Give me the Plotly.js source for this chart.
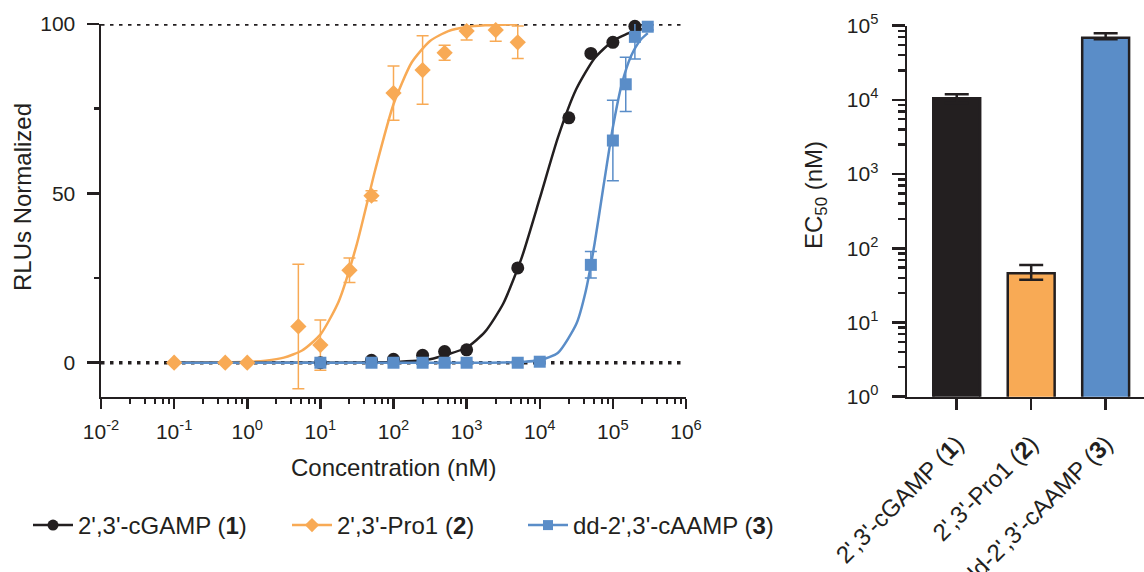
<!DOCTYPE html>
<html>
<head>
<meta charset="utf-8">
<script src="https://cdn.plot.ly/plotly-3.0.1.min.js"></script>
<style>
  html, body { margin: 0; padding: 0; background: #fff; }
  #chart { width: 1144px; height: 572px; }
</style>
</head>
<body>
<div id="chart"></div>
<script>
// ---------------- Data ----------------
// Dose-response points (concentration in nM, normalized RLU, error)
const conc_cGAMP = [10, 50, 100, 250, 500, 1000, 5000, 25000, 50000, 100000, 200000, 300000];
const rlu_cGAMP  = [0, 0.7, 1.0, 2.2, 3.3, 3.8, 28.0, 72.3, 91.3, 94.6, 99.3, 100.3];
const err_cGAMP  = [0.4, 0.5, 0.5, 0.5, 0.6, 0.6, 0.7, 0.8, 0.8, 0.7, 0.6, 0.5];

const conc_Pro1 = [0.1, 0.5, 1, 5, 10, 25, 50, 100, 250, 500, 1000, 2500, 5000];
const rlu_Pro1  = [0, 0, 0, 10.7, 5.2, 27.3, 49.3, 79.6, 86.4, 91.5, 97.9, 98.2, 94.6];
const err_Pro1  = [0.3, 0.3, 0.3, 18.4, 7.4, 3.6, 1.5, 8.0, 10.1, 2.2, 2.6, 3.3, 4.8];

const conc_cAAMP = [10, 50, 100, 250, 500, 1000, 5000, 10000, 50000, 100000, 150000, 200000, 300000];
const rlu_cAAMP  = [0, 0, 0, 0, 0, 0, 0, 0.3, 28.9, 65.6, 82.2, 96.2, 99.2];
const err_cAAMP  = [0.5, 0.4, 0.4, 0.4, 0.4, 0.4, 0.4, 0.5, 3.9, 11.9, 8.0, 6.5, 1.0];

// Fitted curves
const fitX_Pro1 = [0.1, 0.316, 1, 1.78, 3.16, 5.62, 10, 17.8, 31.6, 56.2, 100, 178, 316, 562, 1000, 1780, 3160, 5000];
const fitY_Pro1 = [0, 0.04, 0.26, 0.62, 1.5, 3.6, 8.3, 18.1, 35.1, 56.9, 76.3, 88.7, 95.0, 97.9, 99.1, 99.6, 99.8, 99.9];

const fitX_cGAMP = [0.1, 1, 10, 100, 316, 1000, 1780, 3160, 5620, 10000, 17800, 31600, 56200, 100000, 178000, 300000];
const fitY_cGAMP = [0, 0, 0.01, 0.24, 1.05, 4.5, 9.1, 17.4, 30.8, 48.5, 66.6, 80.8, 89.9, 95.0, 97.6, 98.8];

const fitX_cAAMP = [0.1, 1, 10, 100, 1000, 3160, 10000, 17800, 31600, 42200, 56200, 75000, 100000, 133000, 178000, 237000, 300000];
const fitY_cAAMP = [0, 0, 0, 0, 0, 0.04, 0.72, 2.95, 11.4, 20.8, 35.1, 52.6, 69.5, 82.4, 90.6, 95.2, 97.3];

// Series names (legend) and bar categories
const seriesNames = ["2',3'-cGAMP (<b>1</b>)", "2',3'-Pro1 (<b>2</b>)", "dd-2',3'-cAAMP (<b>3</b>)"];
const barCategories = ["2',3'-cGAMP (1)", "2',3'-Pro1 (2)", "dd-2',3'-cAAMP (3)"];
const barLabels = ["2',3'-cGAMP (<b>1</b>)", "2',3'-Pro1 (<b>2</b>)", "dd-2',3'-cAAMP (<b>3</b>)"];
const ec50Values = [10500, 46.2, 68900];
const ec50ErrPlus = [1400, 13.5, 10000];
const ec50ErrMinus = [1400, 8.5, 3300];

// Tick labels
const xTickVals = [0.01, 0.1, 1, 10, 100, 1000, 10000, 100000, 1000000];
const xTickText = ['10<sup>-2</sup>', '10<sup>-1</sup>', '10<sup>0</sup>', '10<sup>1</sup>', '10<sup>2</sup>',
                   '10<sup>3</sup>', '10<sup>4</sup>', '10<sup>5</sup>', '10<sup>6</sup>'];
const yTickVals = [0, 50, 100];
const yMinorVals = [25, 75];
const y2TickVals = [1, 10, 100, 1000, 10000, 100000];
const y2TickText = ['10<sup>0</sup>', '10<sup>1</sup>', '10<sup>2</sup>', '10<sup>3</sup>', '10<sup>4</sup>', '10<sup>5</sup>'];
const minorMultipliers = [2.5, 4, 5.5, 7, 8.5];

// ---------------- Styling ----------------
const W = 1144, H = 572;
const ink = '#231f20';
const cBlack = '#231f20', cOrange = '#f8aa55', cBlue = '#5a8dc8';
const FONT = 'Liberation Sans, Arial, Helvetica, sans-serif';

function minorTicks(majors) {
  const out = [];
  for (let i = 0; i < majors.length - 1; i++) {
    for (const m of minorMultipliers) out.push(majors[i] * m);
  }
  return out;
}

const curveLine = (color) => ({ color: color, width: 2.5, shape: 'spline', smoothing: 0.6 });

const traces = [
  // fitted curves
  { x: fitX_Pro1, y: fitY_Pro1, mode: 'lines', line: curveLine(cOrange), showlegend: false, hoverinfo: 'skip' },
  { x: fitX_cGAMP, y: fitY_cGAMP, mode: 'lines', line: curveLine(cBlack), showlegend: false, hoverinfo: 'skip' },
  { x: fitX_cAAMP, y: fitY_cAAMP, mode: 'lines', line: curveLine(cBlue), showlegend: false, hoverinfo: 'skip' },
  // data points with error bars
  { x: conc_Pro1, y: rlu_Pro1, mode: 'markers', cliponaxis: false, showlegend: false,
    marker: { symbol: 'diamond', size: 12.5, color: cOrange },
    error_y: { type: 'data', array: err_Pro1, color: cOrange, thickness: 1.5, width: 6 } },
  { x: conc_cGAMP, y: rlu_cGAMP, mode: 'markers', cliponaxis: false, showlegend: false,
    marker: { symbol: 'circle', size: 13, color: cBlack },
    error_y: { type: 'data', array: err_cGAMP, color: cBlack, thickness: 1.5, width: 5 } },
  { x: conc_cAAMP, y: rlu_cAAMP, mode: 'markers', cliponaxis: false, showlegend: false,
    marker: { symbol: 'square', size: 12, color: cBlue },
    error_y: { type: 'data', array: err_cAAMP, color: cBlue, thickness: 1.5, width: 6 } },
  // legend entries (line + marker)
  { x: [null], y: [null], mode: 'lines+markers', name: seriesNames[0], legend: 'legend',
    line: { color: cBlack, width: 2.5 }, marker: { symbol: 'circle', size: 11, color: cBlack } },
  { x: [null], y: [null], mode: 'lines+markers', name: seriesNames[1], legend: 'legend2',
    line: { color: cOrange, width: 2.5 }, marker: { symbol: 'diamond', size: 11, color: cOrange } },
  { x: [null], y: [null], mode: 'lines+markers', name: seriesNames[2], legend: 'legend3',
    line: { color: cBlue, width: 2.5 }, marker: { symbol: 'square', size: 10, color: cBlue } },
  // EC50 bars
  { type: 'bar', x: barCategories, y: ec50Values, xaxis: 'x2', yaxis: 'y2', showlegend: false, width: 0.63,
    marker: { color: [cBlack, cOrange, cBlue], line: { color: ink, width: 2.5 } },
    error_y: { type: 'data', symmetric: false, array: ec50ErrPlus, arrayminus: ec50ErrMinus,
               color: ink, thickness: 2.5, width: 12 } }
];

const tickFont = { family: FONT, size: 21, color: ink };
const titleFont = { family: FONT, size: 24, color: ink };
const legendBase = { orientation: 'h', xanchor: 'left', yanchor: 'middle', y: 1 - 525.5 / H,
  font: { family: FONT, size: 24, color: ink }, bgcolor: 'rgba(0,0,0,0)', itemwidth: 40 };

const layout = {
  width: W, height: H,
  margin: { l: 0, r: 0, t: 0, b: 0 },
  paper_bgcolor: '#ffffff', plot_bgcolor: '#ffffff',
  font: { family: FONT, color: ink },
  xaxis: {
    type: 'log', range: [-2, 6], domain: [101 / W, 686 / W], anchor: 'y',
    showline: true, linewidth: 2.5, linecolor: ink, showgrid: false, zeroline: false,
    ticks: 'outside', ticklen: 10, tickwidth: 2.5, tickcolor: ink, ticklabelstandoff: 5,
    tickmode: 'array', tickvals: xTickVals, ticktext: xTickText, tickfont: tickFont,
    minor: { ticks: 'outside', tickmode: 'array', tickvals: minorTicks(xTickVals), ticklen: 5, tickwidth: 2, tickcolor: ink, showgrid: false }
  },
  yaxis: {
    range: [-10, 100], domain: [1 - 396.6 / H, 1 - 24 / H], anchor: 'x',
    showline: true, linewidth: 2.5, linecolor: ink, showgrid: false, zeroline: false,
    ticks: 'outside', ticklen: 12, tickwidth: 2.5, tickcolor: ink, ticklabelstandoff: 7,
    tickmode: 'array', tickvals: yTickVals, tickfont: tickFont,
    minor: { ticks: 'outside', tickmode: 'array', tickvals: yMinorVals, ticklen: 5, tickwidth: 2.5, tickcolor: ink, showgrid: false }
  },
  xaxis2: {
    type: 'category', domain: [907 / W, 1], anchor: 'y2', range: [-0.668, 2.515],
    showline: true, linewidth: 2.5, linecolor: ink, showgrid: false, zeroline: false,
    ticks: 'outside', ticklen: 11, tickwidth: 2.5, tickcolor: ink, ticklabelstandoff: 10,
    tickmode: 'array', tickvals: barCategories, ticktext: barLabels, tickangle: -45,
    tickfont: { family: FONT, size: 24, color: ink }
  },
  yaxis2: {
    type: 'log', range: [0, 5], domain: [1 - 396.7 / H, 1 - 25.7 / H], anchor: 'x2',
    showline: true, linewidth: 2.5, linecolor: ink, showgrid: false, zeroline: false,
    ticks: 'outside', ticklen: 13, tickwidth: 2.5, tickcolor: ink, ticklabelstandoff: 9,
    tickmode: 'array', tickvals: y2TickVals, ticktext: y2TickText, tickfont: tickFont,
    minor: { ticks: 'outside', tickmode: 'array', tickvals: minorTicks(y2TickVals), ticklen: 7, tickwidth: 2.5, tickcolor: ink, showgrid: false }
  },
  showlegend: true,
  legend: Object.assign({}, legendBase, { x: 28 / W }),
  legend2: Object.assign({}, legendBase, { x: 287 / W }),
  legend3: Object.assign({}, legendBase, { x: 523 / W }),
  shapes: [
    { type: 'line', xref: 'x domain', x0: 0, x1: 1, yref: 'y', y0: 0, y1: 0, layer: 'below',
      line: { color: ink, width: 3.5, dash: '3.5px,5.5px' } },
    { type: 'line', xref: 'x domain', x0: 0, x1: 1, yref: 'y', y0: 100, y1: 100, layer: 'below',
      line: { color: ink, width: 3.5, dash: '3.5px,5.5px' } }
  ],
  annotations: [
    { text: 'RLUs Normalized', xref: 'paper', yref: 'paper', x: 23 / W, y: 1 - 197 / H,
      textangle: -90, showarrow: false, font: titleFont, xanchor: 'center', yanchor: 'middle' },
    { text: 'Concentration (nM)', xref: 'paper', yref: 'paper', x: 393 / W, y: 1 - 467 / H,
      showarrow: false, font: titleFont, xanchor: 'center', yanchor: 'middle' },
    { text: 'EC<sub>50</sub> (nM)', xref: 'paper', yref: 'paper', x: 816 / W, y: 1 - 195 / H,
      textangle: -90, showarrow: false, font: titleFont, xanchor: 'center', yanchor: 'middle' }
  ]
};

Plotly.newPlot('chart', traces, layout, { displayModeBar: false, staticPlot: true });
</script>
</body>
</html>
